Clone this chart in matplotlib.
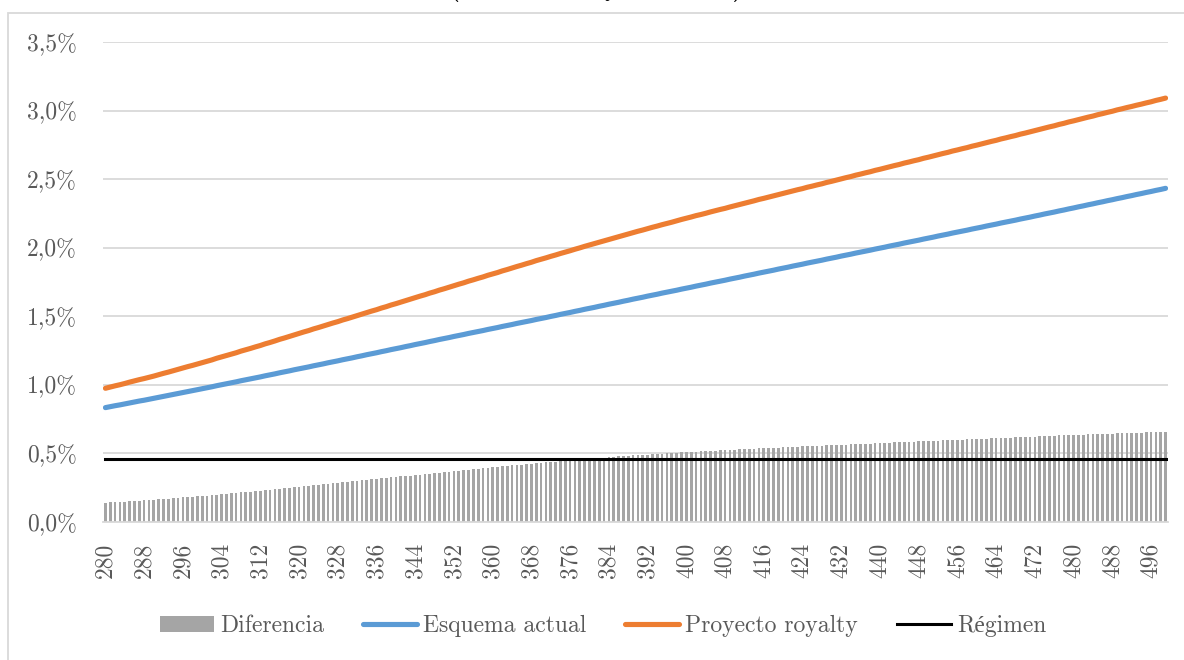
import matplotlib
matplotlib.use("Agg")
import matplotlib.pyplot as plt
from matplotlib.patches import Rectangle, Patch
from matplotlib.lines import Line2D
from matplotlib.ticker import FuncFormatter
import numpy as np

# Precio (categorías del eje X)
precios = list(range(280, 500))

# Tasa efectiva, esquema actual (%)
esquema_actual = [
    0.834, 0.841, 0.848, 0.854, 0.861, 0.868, 0.875, 0.882, 0.888, 0.895,
    0.902, 0.909, 0.916, 0.923, 0.930, 0.937, 0.944, 0.951, 0.958, 0.965,
    0.972, 0.979, 0.986, 0.994, 1.001, 1.008, 1.015, 1.022, 1.030, 1.037,
    1.044, 1.051, 1.058, 1.066, 1.073, 1.080, 1.088, 1.095, 1.102, 1.110,
    1.117, 1.124, 1.131, 1.139, 1.146, 1.153, 1.161, 1.168, 1.175, 1.183,
    1.190, 1.197, 1.205, 1.212, 1.220, 1.227, 1.234, 1.242, 1.249, 1.257,
    1.264, 1.271, 1.279, 1.286, 1.294, 1.301, 1.308, 1.316, 1.323, 1.331,
    1.338, 1.345, 1.353, 1.360, 1.367, 1.375, 1.382, 1.389, 1.396, 1.404,
    1.411, 1.418, 1.426, 1.433, 1.440, 1.448, 1.455, 1.462, 1.469, 1.477,
    1.484, 1.491, 1.499, 1.506, 1.514, 1.521, 1.528, 1.536, 1.543, 1.551,
    1.558, 1.565, 1.573, 1.580, 1.588, 1.595, 1.602, 1.610, 1.617, 1.625,
    1.632, 1.639, 1.647, 1.654, 1.661, 1.669, 1.676, 1.683, 1.690, 1.698,
    1.705, 1.712, 1.720, 1.727, 1.734, 1.742, 1.749, 1.756, 1.763, 1.771,
    1.778, 1.785, 1.793, 1.800, 1.807, 1.815, 1.822, 1.829, 1.836, 1.844,
    1.851, 1.858, 1.866, 1.873, 1.880, 1.888, 1.895, 1.902, 1.909, 1.917,
    1.924, 1.931, 1.939, 1.946, 1.953, 1.961, 1.968, 1.975, 1.982, 1.990,
    1.997, 2.004, 2.012, 2.019, 2.026, 2.034, 2.041, 2.048, 2.055, 2.063,
    2.070, 2.077, 2.085, 2.092, 2.099, 2.107, 2.114, 2.121, 2.128, 2.136,
    2.143, 2.150, 2.158, 2.165, 2.172, 2.180, 2.187, 2.194, 2.201, 2.209,
    2.216, 2.223, 2.231, 2.238, 2.246, 2.253, 2.260, 2.268, 2.275, 2.283,
    2.290, 2.298, 2.305, 2.313, 2.320, 2.328, 2.335, 2.343, 2.350, 2.358,
    2.365, 2.373, 2.380, 2.388, 2.395, 2.403, 2.410, 2.418, 2.425, 2.433,
]

# Tasa efectiva, proyecto royalty (%)
proyecto_royalty = [
    0.975, 0.984, 0.993, 1.001, 1.010, 1.020, 1.029, 1.038, 1.046, 1.055,
    1.064, 1.074, 1.084, 1.093, 1.103, 1.113, 1.123, 1.133, 1.142, 1.152,
    1.162, 1.172, 1.182, 1.194, 1.204, 1.214, 1.224, 1.234, 1.246, 1.256,
    1.266, 1.277, 1.287, 1.299, 1.309, 1.320, 1.332, 1.342, 1.353, 1.364,
    1.375, 1.386, 1.396, 1.408, 1.418, 1.429, 1.440, 1.451, 1.461, 1.473,
    1.483, 1.494, 1.505, 1.516, 1.527, 1.538, 1.548, 1.560, 1.570, 1.582,
    1.592, 1.603, 1.614, 1.625, 1.636, 1.647, 1.657, 1.669, 1.679, 1.691,
    1.701, 1.712, 1.723, 1.734, 1.744, 1.756, 1.766, 1.777, 1.787, 1.799,
    1.809, 1.819, 1.831, 1.841, 1.852, 1.863, 1.873, 1.884, 1.894, 1.906,
    1.916, 1.926, 1.937, 1.947, 1.958, 1.968, 1.978, 1.989, 1.999, 2.010,
    2.020, 2.030, 2.040, 2.050, 2.060, 2.070, 2.080, 2.090, 2.100, 2.110,
    2.120, 2.129, 2.139, 2.149, 2.158, 2.168, 2.177, 2.186, 2.196, 2.206,
    2.215, 2.224, 2.234, 2.242, 2.251, 2.261, 2.270, 2.279, 2.287, 2.297,
    2.306, 2.315, 2.324, 2.333, 2.342, 2.352, 2.360, 2.369, 2.378, 2.387,
    2.396, 2.405, 2.414, 2.423, 2.431, 2.441, 2.449, 2.458, 2.466, 2.476,
    2.484, 2.493, 2.502, 2.511, 2.519, 2.529, 2.537, 2.546, 2.554, 2.564,
    2.572, 2.581, 2.590, 2.599, 2.607, 2.617, 2.625, 2.634, 2.642, 2.652,
    2.660, 2.669, 2.678, 2.687, 2.695, 2.705, 2.713, 2.722, 2.730, 2.740,
    2.748, 2.757, 2.766, 2.775, 2.783, 2.793, 2.801, 2.810, 2.818, 2.828,
    2.836, 2.845, 2.854, 2.863, 2.872, 2.881, 2.889, 2.899, 2.907, 2.917,
    2.925, 2.934, 2.943, 2.952, 2.960, 2.970, 2.978, 2.987, 2.995, 3.005,
    3.013, 3.022, 3.030, 3.039, 3.047, 3.056, 3.064, 3.074, 3.082, 3.091,
]

# Tasa del régimen (%)
regimen = 0.456

# Diferencia entre el proyecto y el esquema actual
diferencia = np.array(proyecto_royalty) - np.array(esquema_actual)

# Marcas del eje Y (%)
y_ticks = [0.0, 0.5, 1.0, 1.5, 2.0, 2.5, 3.0, 3.5]

plt.rcParams['font.family'] = ['cmr10', 'Liberation Serif']
plt.rcParams['axes.formatter.use_mathtext'] = True

GRIS_TEXTO = '#595959'
GRIS_GRILLA = '#d9d9d9'

W, H = 1184, 660
fig = plt.figure(figsize=(W / 100, H / 100), dpi=100)
ax = fig.add_axes([103 / W, 138 / H, 1065 / W, 480 / H])

ax.bar(precios, diferencia, width=0.55, color='#a5a5a5', zorder=2)
ax.plot(precios, [regimen] * len(precios), color='black', lw=2.2, zorder=3)
ax.plot(precios, esquema_actual, color='#5b9bd5', lw=3.7,
        solid_capstyle='round', zorder=4)
ax.plot(precios, proyecto_royalty, color='#ed7d31', lw=3.7,
        solid_capstyle='round', zorder=5)

ax.set_xlim(precios[0] - 0.5, precios[-1] + 0.5)
ax.set_ylim(y_ticks[0], y_ticks[-1])
ax.set_xticks(precios[::8])
ax.set_xticklabels([str(p) for p in precios[::8]], rotation=90)
ax.set_yticks(y_ticks)
ax.yaxis.set_major_formatter(
    FuncFormatter(lambda v, _: f"{v:.1f}".replace('.', ',') + '%'))

ax.tick_params(axis='both', length=0, labelsize=17, labelcolor=GRIS_TEXTO)
ax.tick_params(axis='x', pad=15)
ax.tick_params(axis='y', pad=19)

ax.yaxis.grid(True, color=GRIS_GRILLA, lw=1.3)
ax.set_axisbelow(True)
for lado in ('top', 'right', 'left'):
    ax.spines[lado].set_visible(False)
ax.spines['bottom'].set_color(GRIS_GRILLA)
ax.spines['bottom'].set_linewidth(1.3)

# Marco del gráfico
fig.patches.append(Rectangle((7.5 / W, -0.05), 1.2, (H - 13) / H + 0.05,
                             transform=fig.transFigure, fill=False,
                             ec=GRIS_GRILLA, lw=1.3))

# Título (queda por encima del borde superior de la figura)
fig.text(596 / W, 1 + 4 / H, '(tasa efectiva y diferencia)', ha='center',
         va='baseline', fontsize=18, family=['cmb10', 'Liberation Serif'],
         color='black')

handles = [
    Patch(facecolor='#a5a5a5', edgecolor='none'),
    Line2D([], [], color='#5b9bd5', lw=3.7, solid_capstyle='round'),
    Line2D([], [], color='#ed7d31', lw=3.7, solid_capstyle='round'),
    Line2D([], [], color='black', lw=2.2),
]
etiquetas = ['Diferencia', 'Esquema actual', 'Proyecto royalty', 'Régimen']
fig.legend(handles, etiquetas, loc='center', bbox_to_anchor=(603 / W, 34 / H),
           ncol=4, frameon=False, fontsize=17, handlelength=2.3,
           handletextpad=0.25, columnspacing=1.65, labelcolor=GRIS_TEXTO)

fig.savefig('out.png', dpi=100)
